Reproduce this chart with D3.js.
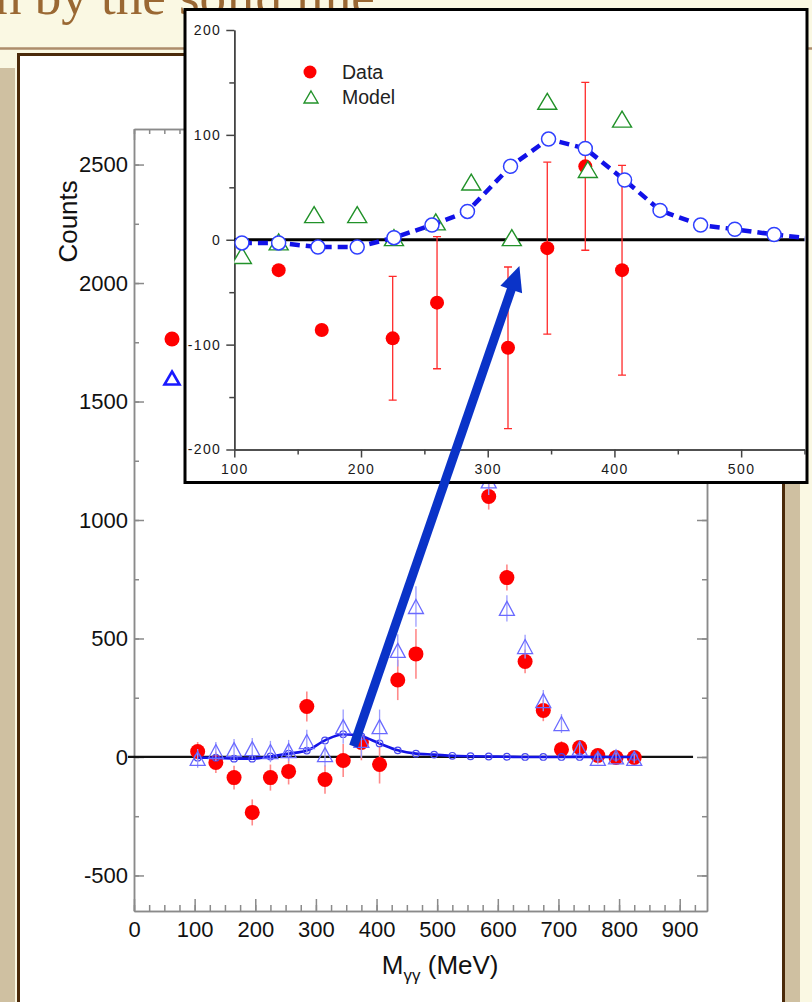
<!DOCTYPE html>
<html>
<head>
<meta charset="utf-8">
<script src="https://cdn.jsdelivr.net/npm/d3@7"></script>
<style>
  body { margin: 0; background: #faf8e3; }
  svg { display: block; }
</style>
</head>
<body>
<svg id="chart" width="812" height="1002"></svg>
<script>
// ---- Main spectrum: counts per two-photon invariant-mass bin (MeV) ----
const massBins     = [105, 135, 165, 195, 225, 255, 285, 315, 345, 375, 405, 435, 465, 495, 525, 555, 585, 615, 645, 675, 705, 735, 765, 795, 825];
const dataCounts   = [23, -23, -87, -234, -87, -61, 213, -95, -15, 61, -32, 325, 435, 1450, 2150, 2450, 1099, 757, 403, 196, 32, 40, 6, -2, -2];
const dataErr      = [40, 45, 50, 55, 55, 55, 63, 60, 70, 75, 80, 85, 105, 100, 100, 100, 55, 55, 50, 45, 35, 30, 25, 20, 20];
const modelCounts  = [-6, 23, 31, 35, 23, 27, 65, 10, 128, 70, 128, 450, 635, 1500, 2250, 2500, 1165, 627, 466, 238, 141, 36, -6, 0, -6];
const modelErr     = [40, 40, 45, 45, 45, 45, 50, 50, 72, 72, 72, 68, 85, 90, 90, 90, 60, 55, 50, 45, 40, 30, 25, 20, 20];
const curveCounts  = [-3, -3, -7, -7, 2, 14, 27, 70, 96, 87, 57, 28, 14, 10, 5, 3, 2, 1, 0, 0, 0, 0, 0, 0, 0];
const mainYTicks   = [-500, 0, 500, 1000, 1500, 2000, 2500];
const mainXTicks   = [0, 100, 200, 300, 400, 500, 600, 700, 800, 900];

// ---- Inset: low-mass region enlarged ----
const insetDataMeV   = [135, 169, 225, 260, 316, 347, 377, 406];
const insetData      = [-29, -86, -94, -60, -103, -8, 70, -29];
const insetDataErr   = [0, 0, 59, 63, 77, 82, 80, 100];
const insetModelMeV  = [106, 135, 163, 197, 226, 259, 287, 319, 347, 379, 406];
const insetModel     = [-15, -2, 24, 24, 2, 17, 55, 2, 132, 67, 115];
const insetCurveMeV  = [106, 135, 166, 197, 226, 256, 284, 318, 348, 377, 408, 436, 468, 495, 526, 556];
const insetCurve     = [-3, -3, -7, -7, 2, 14, 27, 70, 96, 87, 57, 28, 14, 10, 5, 1];
const insetYTicks    = [-200, -100, 0, 100, 200];
const insetXTicks    = [100, 200, 300, 400, 500];

const SANS = "'Liberation Sans', Arial, Helvetica, sans-serif";
const SERIF = "'Liberation Serif', 'Times New Roman', serif";

const svg = d3.select("#chart");

// ---- slide background ----
svg.append("rect").attr("width", 812).attr("height", 1002).attr("fill", "#faf8e3");
svg.append("rect").attr("x", 0).attr("y", 68).attr("width", 15).attr("height", 934).attr("fill", "#cfc0a1");
svg.append("rect").attr("x", 785).attr("y", 68).attr("width", 15).attr("height", 934).attr("fill", "#cfc0a1");
svg.append("text")
  .attr("x", -5).attr("y", 13.5)
  .attr("font-family", SERIF).attr("font-size", 53).attr("fill", "#9a6833")
  .text("n by the solid line");
svg.append("line").attr("x1", 0).attr("x2", 812).attr("y1", 48.5).attr("y2", 48.5)
  .attr("stroke", "#ad8d6b").attr("stroke-width", 2.5);
svg.append("rect").attr("x", 18.5).attr("y", 54.5).attr("width", 765).attr("height", 1000)
  .attr("fill", "#ffffff").attr("stroke", "#4b2a0a").attr("stroke-width", 3);

// ---- helpers ----
function styleAxis(g, color, width, fontSize, textColor, spacing) {
  g.selectAll("path, line").attr("stroke", color).attr("stroke-width", width);
  g.selectAll("text")
    .attr("font-family", SANS).attr("font-size", fontSize).attr("fill", textColor)
    .attr("letter-spacing", spacing || null);
}
function triPath(cx, cy, w, h) {
  return `M${cx},${cy - h / 2}L${cx + w / 2},${cy + h / 2}L${cx - w / 2},${cy + h / 2}Z`;
}
const fmt = d => String(d);

// ================= main plot =================
const xM = d3.scaleLinear().domain([0, 945]).range([134, 707]);
const yM = d3.scaleLinear().domain([-650, 2650]).range([911, 129]);
const [mx0, mx1] = xM.range();
const [my0, my1] = yM.range();

const main = svg.append("g").attr("class", "main");
const mainAxisColor = "#8a8a8a";
const minorY = d3.range(-500, 2651, 250);
const minorX = d3.range(0, 946, 25);

// left
const gL = main.append("g").attr("transform", `translate(${mx0},0)`);
gL.append("g").call(d3.axisLeft(yM).tickValues(minorY).tickSize(-5).tickSizeOuter(0).tickFormat(""));
gL.append("g").call(d3.axisLeft(yM).tickValues(mainYTicks).tickSize(-10).tickSizeOuter(0).tickPadding(6).tickFormat(fmt));
styleAxis(gL, mainAxisColor, 1.5, 22, "#111");
// right
const gR = main.append("g").attr("transform", `translate(${mx1},0)`);
gR.append("g").call(d3.axisRight(yM).tickValues(minorY).tickSize(-5).tickSizeOuter(0).tickFormat(""));
gR.append("g").call(d3.axisRight(yM).tickValues(mainYTicks).tickSize(-10).tickSizeOuter(0).tickFormat(""));
styleAxis(gR, mainAxisColor, 1.5, 22, "#111");
// bottom
const gB = main.append("g").attr("transform", `translate(0,${my0})`);
gB.append("g").call(d3.axisBottom(xM).tickValues(minorX).tickSize(-6).tickSizeOuter(0).tickFormat(""));
gB.append("g").call(d3.axisBottom(xM).tickValues(mainXTicks).tickSize(-12).tickSizeOuter(0).tickPadding(10).tickFormat(fmt));
styleAxis(gB, mainAxisColor, 1.5, 22, "#111");
// top
const gT = main.append("g").attr("transform", `translate(0,${my1})`);
gT.append("g").call(d3.axisTop(xM).tickValues(minorX).tickSize(-5).tickSizeOuter(0).tickFormat(""));
gT.append("g").call(d3.axisTop(xM).tickValues(mainXTicks).tickSize(-11).tickSizeOuter(0).tickFormat(""));
styleAxis(gT, mainAxisColor, 1.5, 22, "#111");

// axis titles
main.append("text")
  .attr("transform", `translate(77,${yM(2260)}) rotate(-90)`)
  .attr("text-anchor", "middle").attr("font-family", SANS).attr("font-size", 26).attr("fill", "#111")
  .text("Counts");
const xt = main.append("text")
  .attr("x", xM(505)).attr("y", 974)
  .attr("text-anchor", "middle").attr("font-family", SANS).attr("font-size", 26).attr("fill", "#111");
xt.append("tspan").text("M");
xt.append("tspan").attr("font-size", 17).attr("dy", 7).text("γγ");
xt.append("tspan").attr("dy", -7).text(" (MeV)");

// zero line
main.append("line")
  .attr("x1", xM(-10)).attr("x2", xM(922)).attr("y1", yM(0)).attr("y2", yM(0))
  .attr("stroke", "#111").attr("stroke-width", 2.2);

const mainRows = massBins.map((m, i) => ({
  m, d: dataCounts[i], de: dataErr[i], mo: modelCounts[i], me: modelErr[i], c: curveCounts[i]
}));

// data error bars + points
main.append("g").selectAll("line").data(mainRows).join("line")
  .attr("x1", r => xM(r.m)).attr("x2", r => xM(r.m))
  .attr("y1", r => yM(r.d - r.de)).attr("y2", r => yM(r.d + r.de))
  .attr("stroke", "#ff8a8a").attr("stroke-width", 1.6);
main.append("g").selectAll("circle").data(mainRows).join("circle")
  .attr("cx", r => xM(r.m)).attr("cy", r => yM(r.d)).attr("r", 7.5)
  .attr("fill", "#ff0000");

// fitted curve
main.append("path").datum(mainRows)
  .attr("d", d3.line().x(r => xM(r.m)).y(r => yM(r.c)).curve(d3.curveMonotoneX))
  .attr("fill", "none").attr("stroke", "#1414e6").attr("stroke-width", 2.6);
main.append("g").selectAll("circle").data(mainRows).join("circle")
  .attr("cx", r => xM(r.m)).attr("cy", r => yM(r.c)).attr("r", 3.3)
  .attr("fill", "none").attr("stroke", "#4848f0").attr("stroke-width", 1.2);

// model error bars + triangles
main.append("g").selectAll("line").data(mainRows).join("line")
  .attr("x1", r => xM(r.m)).attr("x2", r => xM(r.m))
  .attr("y1", r => yM(r.mo - r.me)).attr("y2", r => yM(r.mo + r.me))
  .attr("stroke", "#9c9cff").attr("stroke-width", 1.3);
main.append("g").selectAll("path").data(mainRows).join("path")
  .attr("d", r => triPath(xM(r.m), yM(r.mo), 15, 14))
  .attr("fill", "none").attr("stroke", "#6a6aff").attr("stroke-width", 1.3);

// legend markers
main.append("circle").attr("cx", 172).attr("cy", 339).attr("r", 7.5).attr("fill", "#ff0000");
main.append("path").attr("d", triPath(172, 378, 15, 13))
  .attr("fill", "none").attr("stroke", "#1a1aff").attr("stroke-width", 2.6);

// ================= inset =================
const xI = d3.scaleLinear().domain([100, 550]).range([234.3, 804.5]);
const yI = d3.scaleLinear().domain([-200, 200]).range([449.5, 30]);
const [ix0, ix1] = xI.range();
const [iy0, iy1] = yI.range();

const inset = svg.append("g").attr("class", "inset");
inset.append("rect").attr("x", 185).attr("y", 9.5).attr("width", 622).attr("height", 473)
  .attr("fill", "#ffffff").attr("stroke", "#000").attr("stroke-width", 3);

inset.append("clipPath").attr("id", "insetClip")
  .append("rect").attr("x", ix0).attr("y", iy1).attr("width", ix1 - ix0).attr("height", iy0 - iy1);

const insetAxisColor = "#444";
const gIL = inset.append("g").attr("transform", `translate(${ix0},0)`);
gIL.append("g").call(d3.axisLeft(yI).tickValues([-150, -50, 50, 150]).tickSize(5).tickSizeOuter(0).tickFormat(""));
gIL.append("g").call(d3.axisLeft(yI).tickValues(insetYTicks).tickSize(8).tickSizeOuter(0).tickPadding(5).tickFormat(fmt));
styleAxis(gIL, insetAxisColor, 1.5, 14, "#1a1a1a", 1.4);
const gIB = inset.append("g").attr("transform", `translate(0,${iy0})`);
gIB.append("g").call(d3.axisBottom(xI).tickValues([150, 250, 350, 450, 550]).tickSize(5).tickSizeOuter(0).tickFormat(""));
gIB.append("g").call(d3.axisBottom(xI).tickValues(insetXTicks).tickSize(8).tickSizeOuter(0).tickPadding(7).tickFormat(fmt));
styleAxis(gIB, insetAxisColor, 1.5, 14, "#1a1a1a", 1.4);

// zero line
inset.append("line")
  .attr("x1", ix0).attr("x2", ix1).attr("y1", yI(0)).attr("y2", yI(0))
  .attr("stroke", "#000").attr("stroke-width", 3);

const plotI = inset.append("g").attr("clip-path", "url(#insetClip)");

// data: error bars with caps, then points
const iData = insetDataMeV.map((m, i) => ({ m, v: insetData[i], e: insetDataErr[i] }));
const errG = plotI.append("g").attr("stroke", "#ff2a2a").attr("stroke-width", 1.3);
iData.filter(r => r.e > 0).forEach(r => {
  const x = xI(r.m);
  errG.append("line").attr("x1", x).attr("x2", x).attr("y1", yI(r.v - r.e)).attr("y2", yI(r.v + r.e));
  errG.append("line").attr("x1", x - 4).attr("x2", x + 4).attr("y1", yI(r.v - r.e)).attr("y2", yI(r.v - r.e));
  errG.append("line").attr("x1", x - 4).attr("x2", x + 4).attr("y1", yI(r.v + r.e)).attr("y2", yI(r.v + r.e));
});
plotI.append("g").selectAll("circle").data(iData).join("circle")
  .attr("cx", r => xI(r.m)).attr("cy", r => yI(r.v)).attr("r", 7)
  .attr("fill", "#ff0000");

// model triangles
const iModel = insetModelMeV.map((m, i) => ({ m, v: insetModel[i] }));
plotI.append("g").selectAll("path").data(iModel).join("path")
  .attr("d", r => triPath(xI(r.m), yI(r.v), 19, 16))
  .attr("fill", "#ffffff").attr("stroke", "#22922a").attr("stroke-width", 1.4);

// fitted curve: dashed line with open circles
const iCurve = insetCurveMeV.map((m, i) => ({ m, v: insetCurve[i] }));
plotI.append("path").datum(iCurve)
  .attr("d", d3.line().x(r => xI(r.m)).y(r => yI(r.v)))
  .attr("fill", "none").attr("stroke", "#1212e8").attr("stroke-width", 4.5)
  .attr("stroke-dasharray", "10,6");
plotI.append("g").selectAll("circle").data(iCurve).join("circle")
  .attr("cx", r => xI(r.m)).attr("cy", r => yI(r.v)).attr("r", 7)
  .attr("fill", "#ffffff").attr("stroke", "#3040ff").attr("stroke-width", 1.5);

// inset legend
inset.append("circle").attr("cx", 310).attr("cy", 72).attr("r", 6.5).attr("fill", "#ff0000");
inset.append("text").attr("x", 342).attr("y", 79)
  .attr("font-family", SANS).attr("font-size", 19.5).attr("fill", "#222").text("Data");
inset.append("path").attr("d", triPath(311, 97, 14, 12))
  .attr("fill", "none").attr("stroke", "#22922a").attr("stroke-width", 1.4);
inset.append("text").attr("x", 342).attr("y", 104)
  .attr("font-family", SANS).attr("font-size", 19.5).attr("fill", "#222").text("Model");

// ================= arrow linking the two views =================
const tail = [xM(362), yM(45)];
const tip = [xI(325), yI(-25)];
const dx = tip[0] - tail[0], dy = tip[1] - tail[1];
const len = Math.hypot(dx, dy);
const ux = dx / len, uy = dy / len;
const headLen = 25, headHalf = 11.5;
const base = [tip[0] - ux * headLen, tip[1] - uy * headLen];
const arrow = svg.append("g").attr("class", "arrow");
arrow.append("line")
  .attr("x1", tail[0]).attr("y1", tail[1]).attr("x2", base[0] + ux * 2).attr("y2", base[1] + uy * 2)
  .attr("stroke", "#0a33c8").attr("stroke-width", 9);
arrow.append("path")
  .attr("d", `M${tip[0]},${tip[1]}L${base[0] - uy * headHalf},${base[1] + ux * headHalf}L${base[0] + uy * headHalf},${base[1] - ux * headHalf}Z`)
  .attr("fill", "#0a33c8");
</script>
</body>
</html>
